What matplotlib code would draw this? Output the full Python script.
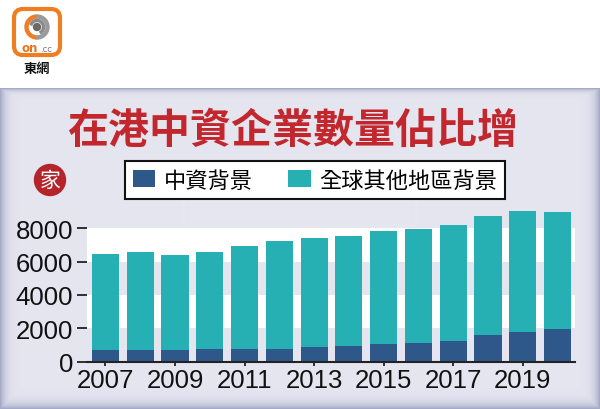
import matplotlib
matplotlib.use('Agg')
import matplotlib.pyplot as plt
from matplotlib.patches import Circle, FancyBboxPatch, Wedge
import numpy as np

# data
years = list(range(2007, 2021))
total = [6460, 6600, 6400, 6560, 6920, 7220, 7420, 7560, 7860, 7960, 8200, 8720, 9040, 9000]
china = [700, 700, 720, 740, 740, 760, 900, 960, 1060, 1100, 1240, 1600, 1760, 1960]
others = [t - c for t, c in zip(total, china)]
yticks = [0, 2000, 4000, 6000, 8000]

title = '在港中資企業數量佔比增'
labels = ['中資背景', '全球其他地區背景']

dark = '#2e588a'
teal = '#27b0b4'
cjk = ['Noto Sans CJK TC', 'DejaVu Sans']
num_font = ['Liberation Sans', 'DejaVu Sans']

fig = plt.figure(figsize=(6, 4.1), dpi=100)
fig.patch.set_facecolor('white')

# background layer in pixel coordinates
bg = fig.add_axes([0, 0, 1, 1], zorder=-1)
bg.set_xlim(0, 600)
bg.set_ylim(410, 0)
bg.axis('off')

# lavender panel with shaded edges
h, w = 321, 600
yy, xx = np.mgrid[0:h, 0:w]
d = np.minimum(np.minimum(xx, w - 1 - xx), h - 1 - yy)
d = np.minimum(d, yy * 2.0)
shade = np.exp(-d / 5.0)[..., None]
base = np.array([230, 230, 241]) / 255.0
edge = np.array([165, 170, 198]) / 255.0
img = base * (1 - shade) + edge * shade
bg.imshow(img, extent=(0, 600, 410, 89), aspect='auto', interpolation='bilinear')

# logo
bg.add_patch(FancyBboxPatch((14, 10), 46, 46, boxstyle='round,pad=0,rounding_size=9',
                            facecolor='white', edgecolor='#ef7d22', lw=3))
bg.add_patch(Wedge((37, 28), 12, 90, 270, width=3, color='#ef7d22'))
bg.add_patch(Wedge((37, 28), 12, 270, 90, width=3, color='#9a9a9a'))
bg.add_patch(Wedge((37, 28), 7.5, 200, 60, width=2, color='#8a8a8a'))
bg.add_patch(Circle((37, 28), 3.5, color='#6a6a6a'))
bg.text(38, 49, 'on', fontsize=8.5, weight='bold', color='#e8731f', ha='right', va='center')
bg.text(40, 49.5, '.cc', fontsize=6, color='#777777', ha='left', va='center')
bg.text(37, 69, '東網', fontsize=9.5, weight='bold', color='#111111', ha='center', va='center',
        family=cjk)

# title
bg.text(293, 131, title, fontsize=29.5, weight='bold', color='#c1272d',
        ha='center', va='center', family=cjk)

# unit badge
bg.add_patch(Circle((50, 181), 15.5, color='#b5232b'))
bg.text(50, 181, '家', fontsize=15, color='white', ha='center', va='center', family=cjk)

# chart
ax = fig.add_axes([87 / 600, 47.5 / 410, 488 / 600, 155 / 410])
ax.set_facecolor('none')
ax.axhspan(2000, 4000, color='white', zorder=0, lw=0)
ax.axhspan(6000, 8000, color='white', zorder=0, lw=0)

b1 = ax.bar(years, china, width=0.78, color=dark, zorder=2, label=labels[0])
b2 = ax.bar(years, others, bottom=china, width=0.78, color=teal, zorder=2, label=labels[1])

ax.set_xlim(2006.47, 2020.5)
ax.set_ylim(0, 9300)
ax.set_xticks(years[::2])
ax.set_xticklabels([str(y) for y in years[::2]], family=num_font, fontsize=18.5)
ax.set_yticks(yticks)
ax.set_yticklabels([str(v) for v in yticks], family=num_font, fontsize=18.5)
ax.tick_params(axis='x', length=3, width=1.2, colors='#111111', pad=2)
ax.tick_params(axis='y', length=7, width=1.2, colors='#111111', pad=3)
for s in ['top', 'right', 'left']:
    ax.spines[s].set_visible(False)
ax.spines['bottom'].set_linewidth(1.5)
ax.spines['bottom'].set_color('#222222')

leg = fig.legend(handles=[b1, b2], labels=labels, ncol=2, loc='center',
                 bbox_to_anchor=(315 / 600, 1 - 181 / 410),
                 prop={'family': cjk, 'size': 16}, frameon=True, fancybox=False,
                 edgecolor='#111111', facecolor='white', framealpha=1,
                 handlelength=1.0, handleheight=0.8, handletextpad=0.4,
                 columnspacing=1.6, borderpad=0.35)
leg.get_frame().set_linewidth(1.5)

fig.savefig('out.png', dpi=100)
